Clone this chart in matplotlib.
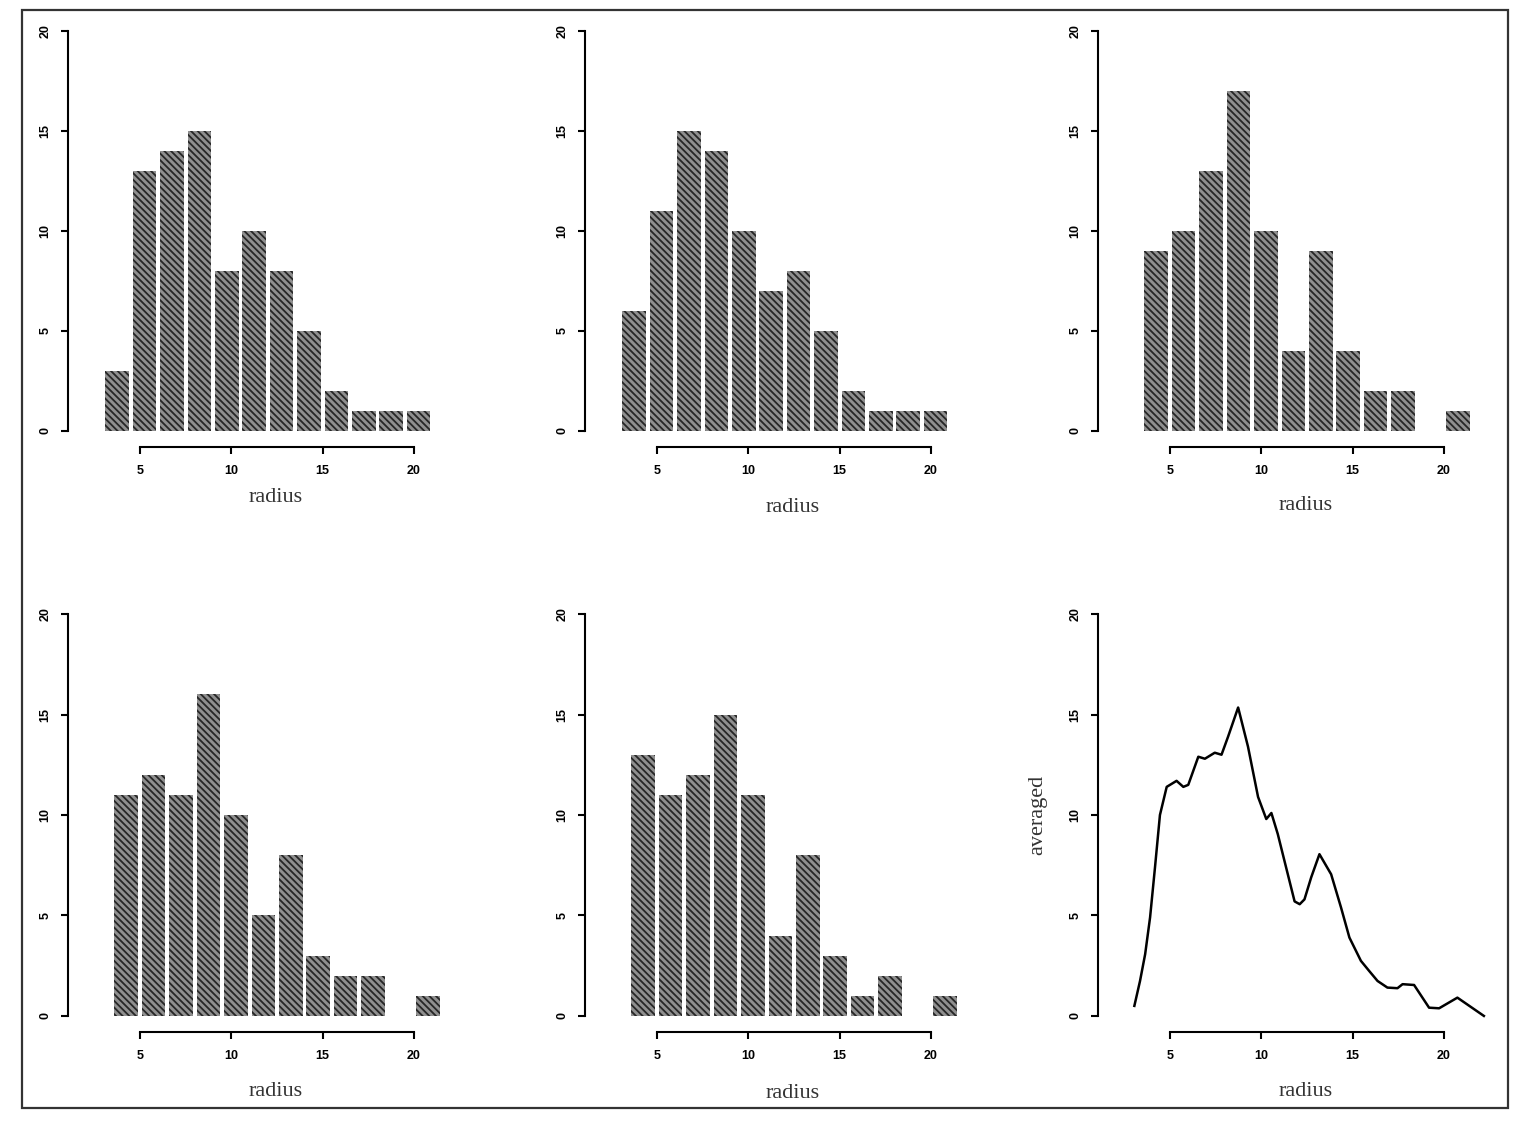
import matplotlib
matplotlib.use("Agg")
import matplotlib.pyplot as plt
import numpy as np
from matplotlib.patches import Rectangle

# histogram counts, bin width 1.5
bin_width = 1.5
starts = [3.0, 3.0, 3.5, 3.5, 3.5]
counts = [
    [3, 13, 14, 15, 8, 10, 8, 5, 2, 1, 1, 1],
    [6, 11, 15, 14, 10, 7, 8, 5, 2, 1, 1, 1],
    [9, 10, 13, 17, 10, 4, 9, 4, 2, 2, 0, 1],
    [11, 12, 11, 16, 10, 5, 8, 3, 2, 2, 0, 1],
    [13, 11, 12, 15, 11, 4, 8, 3, 1, 2, 0, 1],
]

# averaged curve
avg_x = [3.05, 3.36, 3.64, 3.91, 4.18, 4.45, 4.82, 5.36, 5.73, 6.0, 6.55, 6.91,
         7.45, 7.82, 8.18, 8.73, 9.27, 9.82, 10.27, 10.55, 10.9, 11.27, 11.82,
         12.1, 12.36, 12.73, 13.18, 13.82, 14.36, 14.82, 15.45, 15.9, 16.36,
         16.9, 17.45, 17.73, 18.36, 19.18, 19.73, 20.73, 22.18]
avg_y = [0.5, 1.74, 3.07, 4.9, 7.4, 10.0, 11.4, 11.7, 11.4, 11.5, 12.9, 12.8,
         13.1, 13.0, 13.9, 15.35, 13.4, 10.9, 9.8, 10.1, 9.05, 7.7, 5.7,
         5.56, 5.8, 6.9, 8.05, 7.05, 5.4, 3.9, 2.74, 2.24, 1.74,
         1.41, 1.38, 1.58, 1.54, 0.41, 0.38, 0.91, 0.0]

x_ticks = [5, 10, 15, 20]
y_ticks = [0, 5, 10, 15, 20]

W, H = 1517, 1134
plt.rcParams["hatch.linewidth"] = 1.3
fig = plt.figure(figsize=(W / 100, H / 100), dpi=100)

# panel geometry in pixels: left, top, bottom
col_left = [68, 585, 1098]
row_top = [15, 598]
row_bot = [447, 1032]
ax_w = 410
label_off = [[51, 60, 58], [59, 62, 59]]

tick_font = {"family": "Liberation Sans", "weight": "bold", "size": 9}


def make_axes(r, c):
    left = col_left[c] / W
    bottom = 1 - row_bot[r] / H
    height = (row_bot[r] - row_top[r]) / H
    ax = fig.add_axes([left, bottom, ax_w / W, height])
    ax.set_facecolor("none")
    ax.set_xlim(1.06, 23.5)
    ax.set_ylim(-0.8, 20.8)
    for s in ["top", "right"]:
        ax.spines[s].set_visible(False)
    ax.spines["left"].set_bounds(0, 20)
    ax.spines["bottom"].set_bounds(5, 20)
    ax.spines["left"].set_linewidth(1.5)
    ax.spines["bottom"].set_linewidth(1.5)
    ax.set_xticks(x_ticks)
    ax.set_yticks(y_ticks)
    ax.set_xticklabels([str(t) for t in x_ticks], fontdict=tick_font)
    ax.set_yticklabels([str(t) for t in y_ticks], fontdict=tick_font,
                       rotation=90, va="center")
    ax.tick_params(length=5, width=1.5, direction="out")
    ax.tick_params(axis="x", pad=8)
    ax.tick_params(axis="y", pad=7)
    h_px = row_bot[r] - row_top[r]
    ax.text(12.45, -label_off[r][c] / h_px, "radius",
            transform=ax.get_xaxis_transform(), ha="center", va="center",
            family="Liberation Serif", fontsize=16, color="#333333")
    return ax


for i, cnt in enumerate(counts):
    r, c = divmod(i, 3)
    ax = make_axes(r, c)
    edges = starts[i] + bin_width * np.arange(len(cnt))
    centers = edges + bin_width / 2
    ax.bar(centers, cnt, width=bin_width * 0.86, facecolor="#8f8f8f",
           edgecolor="#262626", linewidth=0, hatch="\\" * 5)

ax = make_axes(1, 2)
ax.plot(avg_x, avg_y, color="black", linewidth=1.8)
ax.text(-60 / ax_w, 10, "averaged", transform=ax.get_yaxis_transform(),
        rotation=90, ha="center", va="center", family="Liberation Serif",
        fontsize=16, color="#333333")

# outer frame
fig.add_artist(Rectangle((22 / W, 1 - 1108 / H), 1486 / W, 1098 / H,
                         transform=fig.transFigure, fill=False,
                         edgecolor="#333333", linewidth=1.6, zorder=5))

fig.savefig("out.png", dpi=100)
